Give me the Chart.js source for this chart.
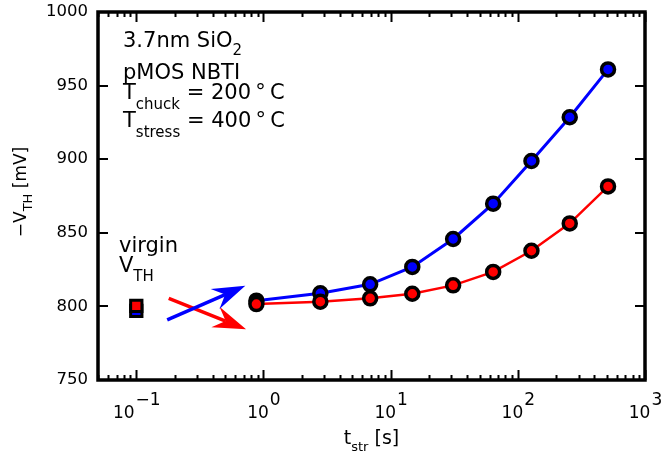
<!DOCTYPE html>
<html>
<head>
<meta charset="utf-8">
<script src="https://cdn.jsdelivr.net/npm/chart.js@4.4.0/dist/chart.umd.min.js"></script>
<style>
html,body{margin:0;padding:0;background:#fff;}
#wrap{width:661px;height:462px;}
</style>
</head>
<body>
<div id="wrap"><canvas id="c" width="661" height="462"></canvas></div>
<script>
// ---- data ----
const tStress = [0.88, 2.8, 6.9, 14.8, 31, 64, 128, 256, 512];
const vthRed  = [801.6, 803.2, 805.5, 808.6, 814.3, 823.4, 837.8, 856.4, 881.5];
const vthBlue = [803.9, 808.9, 815.0, 826.8, 845.8, 869.8, 898.8, 928.5, 961.0];
const tVirgin = [0.1];
const vthVirginRed  = [800.3];
const vthVirginBlue = [797.0];
const xDecades = [-2, -1, 0, 1, 2, 3];
const xTickExponents = ['\u22121', '0', '1', '2', '3'];
const xTickValues = [0.1, 1, 10, 100, 1000];
const yTickValues = [750, 800, 850, 900, 950, 1000];
// arrows: [x0, y0, x1, y1] in data units
const arrowBlue = [0.175, 790.8, 0.72, 814.0];
const arrowRed  = [0.18, 805.5, 0.73, 784.5];

const pts = (xs, ys) => xs.map((x, i) => ({x, y: ys[i]}));
const FONT = '"DejaVu Sans", sans-serif';

function richText(ctx, x, y, parts, align) {
  let w = 0;
  parts.forEach(p => { ctx.font = p[1] + 'px ' + FONT; w += ctx.measureText(p[0]).width; });
  let cx = align === 'center' ? x - w / 2 : x;
  ctx.textBaseline = 'alphabetic';
  ctx.textAlign = 'left';
  parts.forEach(p => {
    ctx.font = p[1] + 'px ' + FONT;
    ctx.fillText(p[0], cx, y + (p[2] || 0));
    cx += ctx.measureText(p[0]).width;
  });
}

function arrow(ctx, xs, ys, a, color) {
  const x0 = xs.getPixelForValue(a[0]), y0 = ys.getPixelForValue(a[1]);
  const x1 = xs.getPixelForValue(a[2]), y1 = ys.getPixelForValue(a[3]);
  const ang = Math.atan2(y1 - y0, x1 - x0);
  const L = 33, W = 11, N = 22;
  const c = Math.cos(ang), s = Math.sin(ang);
  const bx = x1 - L * c, by = y1 - L * s;
  const nx = x1 - N * c, ny = y1 - N * s;
  ctx.save();
  ctx.strokeStyle = color; ctx.fillStyle = color;
  ctx.lineWidth = 3.5; ctx.lineCap = 'butt';
  ctx.beginPath(); ctx.moveTo(x0, y0); ctx.lineTo(nx, ny); ctx.stroke();
  ctx.beginPath();
  ctx.moveTo(x1, y1);
  ctx.lineTo(bx - W * s, by + W * c);
  ctx.lineTo(nx, ny);
  ctx.lineTo(bx + W * s, by - W * c);
  ctx.closePath(); ctx.fill();
  ctx.restore();
}

const decor = {
  id: 'decor',
  beforeDatasetsDraw(chart) {
    const {ctx, scales: {x, y}} = chart;
    arrow(ctx, x, y, arrowRed, '#ff0000');
    arrow(ctx, x, y, arrowBlue, '#0000ff');
  },
  afterDraw(chart) {
    const {ctx, chartArea: a, scales: {x, y}} = chart;
    ctx.save();
    ctx.strokeStyle = '#000'; ctx.fillStyle = '#000';
    ctx.lineWidth = 2;
    ctx.beginPath();
    xDecades.forEach(d => {
      for (let k = 1; k <= 9; k++) {
        const v = k * Math.pow(10, d);
        if (v < x.min * 0.999 || v > x.max * 1.001) continue;
        const px = Math.round(x.getPixelForValue(v)) + 0.5;
        const len = k === 1 ? 10 : 5;
        ctx.moveTo(px, a.bottom); ctx.lineTo(px, a.bottom - len);
        ctx.moveTo(px, a.top); ctx.lineTo(px, a.top + len);
      }
    });
    yTickValues.forEach(v => {
      const py = Math.round(y.getPixelForValue(v));
      ctx.moveTo(a.left, py); ctx.lineTo(a.left + 10, py);
      ctx.moveTo(a.right, py); ctx.lineTo(a.right - 10, py);
    });
    ctx.stroke();
    ctx.lineWidth = 3.5;
    ctx.strokeRect(a.left, a.top, a.right - a.left, a.bottom - a.top);
    // x tick labels
    xTickValues.forEach((v, i) => {
      const px = x.getPixelForValue(v);
      ctx.font = '17px ' + FONT;
      const wb = ctx.measureText('10').width;
      const we = ctx.measureText(xTickExponents[i]).width;
      const left = px - (wb + we) / 2;
      ctx.textAlign = 'left'; ctx.textBaseline = 'alphabetic';
      ctx.fillText('10', left, a.bottom + 38);
      ctx.fillText(xTickExponents[i], left + wb + 1, a.bottom + 25);
    });
    // axis titles
    richText(ctx, (a.left + a.right) / 2, a.bottom + 64, [['t', 19], ['str', 13, 7], [' [s]', 19]], 'center');
    ctx.save();
    ctx.translate(26, 192);
    ctx.rotate(-Math.PI / 2);
    richText(ctx, 0, 0, [['\u2212V', 17], ['TH', 13, 6], [' [mV]', 17]], 'center');
    ctx.restore();
    // annotations
    richText(ctx, 123, 47, [['3.7nm SiO', 21], ['2', 15, 8]]);
    richText(ctx, 123, 79, [['pMOS NBTI', 21]]);
    richText(ctx, 123, 99, [['T', 21], ['chuck', 15, 10], [' = 200\u2009°\u2009C', 21]]);
    richText(ctx, 123, 127, [['T', 21], ['stress', 15, 10], [' = 400\u2009°\u2009C', 21]]);
    richText(ctx, 119, 252, [['virgin', 21]]);
    richText(ctx, 119, 272, [['V', 21], ['TH', 15, 9]]);
    ctx.restore();
  }
};

new Chart(document.getElementById('c'), {
  type: 'scatter',
  data: {
    datasets: [
      {data: pts(tVirgin, vthVirginRed), pointStyle: 'rect', pointRadius: 8, pointBorderWidth: 3,
       backgroundColor: '#ff0000', borderColor: '#000', showLine: false},
      {data: pts(tVirgin, vthVirginBlue), pointStyle: 'rect', pointRadius: 8, pointBorderWidth: 3,
       backgroundColor: '#0000ff', borderColor: '#000', showLine: false},
      {data: pts(tStress, vthRed), showLine: true, borderColor: '#ff0000', borderWidth: 2.5,
       pointRadius: 6.5, pointBorderWidth: 3.5, pointBackgroundColor: '#ff0000', pointBorderColor: '#000', tension: 0},
      {data: pts(tStress, vthBlue), showLine: true, borderColor: '#0000ff', borderWidth: 3,
       pointRadius: 6.5, pointBorderWidth: 3.5, pointBackgroundColor: '#0000ff', pointBorderColor: '#000', tension: 0}
    ]
  },
  options: {
    responsive: false,
    animation: false,
    devicePixelRatio: 1,
    layout: {padding: {top: 12, right: 16, left: 0, bottom: 0}},
    plugins: {legend: {display: false}, tooltip: {enabled: false}},
    scales: {
      x: {
        type: 'logarithmic', min: 0.05, max: 1000,
        grid: {display: false, drawTicks: false}, border: {display: false},
        ticks: {display: false},
        afterFit: s => { s.height = 82; s.paddingLeft = 0; s.paddingRight = 0; }
      },
      y: {
        min: 750, max: 1000,
        grid: {display: false, drawTicks: false}, border: {display: false},
        ticks: {stepSize: 50, padding: 10, color: '#000', font: {family: '"DejaVu Sans", sans-serif', size: 16.5},
                callback: v => String(v)},
        afterFit: s => { s.width = 98; s.paddingTop = 0; s.paddingBottom = 0; }
      }
    }
  },
  plugins: [decor]
});
</script>
</body>
</html>
